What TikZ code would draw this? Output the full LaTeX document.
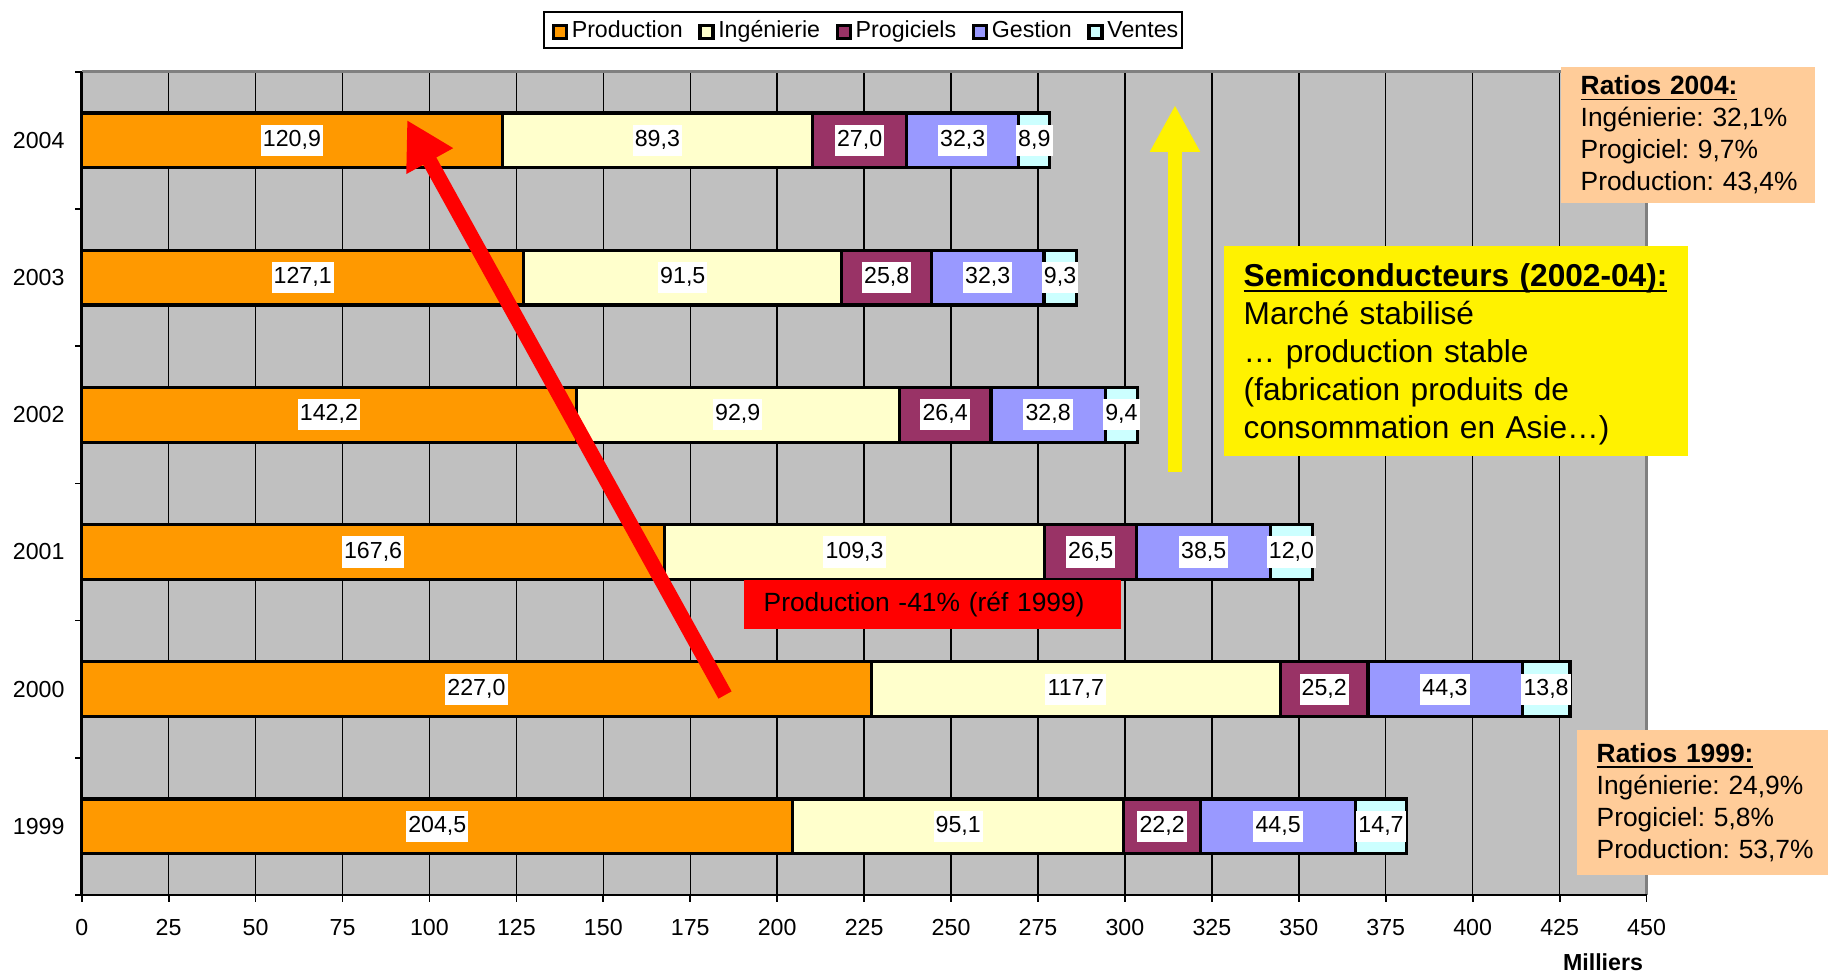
\documentclass[tikz,border=0pt]{standalone}
\usepackage{fontspec}
\setmainfont{Liberation Sans}
\usepackage{tikz}
\usetikzlibrary{positioning,arrows.meta}

\definecolor{prodcol}{HTML}{FF9900}
\definecolor{ingcol}{HTML}{FFFFCC}
\definecolor{progcol}{HTML}{993366}
\definecolor{gestcol}{HTML}{9999FF}
\definecolor{ventcol}{HTML}{CCFFFF}
\definecolor{plotgray}{HTML}{C0C0C0}
\definecolor{ratiocol}{HTML}{FFCC99}
\pgfkeys{/pgf/number format/.cd,fixed,fixed zerofill,precision=1,use comma,assume math mode=true}
\newcommand{\boxtitle}[1]{\underline{\raisebox{0pt}[\height][0pt]{\textbf{#1}}}}

\begin{document}
\begin{tikzpicture}[
  every node/.style={font=\fontsize{6.6}{8}\selectfont},
  seg/.style={draw=black, line width=0.9pt},
  val/.style={fill=white, inner xsep=0.6pt, inner ysep=1.4pt, text height=4.8pt, text depth=1.3pt},
  legsq/.style={draw=black, line width=0.9pt, minimum size=0.13cm, inner sep=0pt},
  legtxt/.style={inner sep=0pt, text height=4.8pt, text depth=1.4pt},
  ratiobox/.style={fill=ratiocol, anchor=north west, align=left, inner xsep=0.2cm, inner ysep=0.06cm, font=\fontsize{7.5}{9.1}\selectfont\frenchspacing}
]
  \useasboundingbox (0,0) rectangle (18.28,9.72);

  % Plot area: x in thousands, one unit in y per year
  \begin{scope}[shift={(0.817,0.77)}, x=0.03478cm, y=1.372cm]
    \fill[plotgray] (0,0) rectangle (450,6);
    \foreach \v in {25,50,...,425}
      \draw[black, line width=0.4pt] (\v,0) -- (\v,6);
    \draw[gray, line width=0.8pt] (0,6) -- (450,6) -- (450,0);
    \draw[black, line width=0.7pt] (0,6) -- (0,0) -- (450,0);
    \foreach \v in {0,25,...,450} {
      \draw[black, line width=0.5pt] (\v,0) -- ++(0,-0.07cm);
      \node (tick\v) at ([yshift=-0.33cm]\v,0) {\v};
    }
    \foreach \k in {0,...,6}
      \draw[black, line width=0.5pt] (0,\k) -- ++(-0.07cm,0);

    % Stacked bars, one row per year
    \foreach \yr/\row/\a/\b/\c/\d/\e in {1999/0/204.5/95.1/22.2/44.5/14.7,
        2000/1/227.0/117.7/25.2/44.3/13.8, 2001/2/167.6/109.3/26.5/38.5/12.0,
        2002/3/142.2/92.9/26.4/32.8/9.4, 2003/4/127.1/91.5/25.8/32.3/9.3,
        2004/5/120.9/89.3/27.0/32.3/8.9} {
      \pgfmathsetmacro\sa{\a}
      \pgfmathsetmacro\sb{\sa+\b}
      \pgfmathsetmacro\sc{\sb+\c}
      \pgfmathsetmacro\sd{\sc+\d}
      \pgfmathsetmacro\se{\sd+\e}
      \node (yr\yr) at ([xshift=-0.43cm]0,\row+0.5) {\yr};
      \draw[seg, fill=prodcol] (0,\row+0.3) rectangle (\sa,\row+0.7);
      \draw[seg, fill=ingcol]  (\sa,\row+0.3) rectangle (\sb,\row+0.7);
      \draw[seg, fill=progcol] (\sb,\row+0.3) rectangle (\sc,\row+0.7);
      \draw[seg, fill=gestcol] (\sc,\row+0.3) rectangle (\sd,\row+0.7);
      \draw[seg, fill=ventcol] (\sd,\row+0.3) rectangle (\se,\row+0.7);
      \node[val] (prod\yr) at ({\sa/2},\row+0.5) {\pgfmathprintnumber{\a}};
      \node[val] (ing\yr)  at ({(\sa+\sb)/2},\row+0.5) {\pgfmathprintnumber{\b}};
      \node[val] (prog\yr) at ({(\sb+\sc)/2},\row+0.5) {\pgfmathprintnumber{\c}};
      \node[val] (gest\yr) at ({(\sc+\sd)/2},\row+0.5) {\pgfmathprintnumber{\d}};
      \node[val] (vent\yr) at ({(\sd+\se)/2},\row+0.5) {\pgfmathprintnumber{\e}};
    }
  \end{scope}
  \node[font=\bfseries\fontsize{6.6}{8}\selectfont] (milliers) at (16.03,0.10) {Milliers};

  % Legend
  \draw[black, line width=0.6pt] (5.44,9.24) rectangle (11.82,9.60);
  \node[legsq, fill=prodcol] (lsqprod) at (5.60,9.40) {};
  \node[legtxt, right=0.03cm of lsqprod] (lprod) {Production};
  \node[legsq, fill=ingcol, right=0.15cm of lprod] (lsqing) {};
  \node[legtxt, right=0.03cm of lsqing] (ling) {Ingénierie};
  \node[legsq, fill=progcol, right=0.15cm of ling] (lsqprog) {};
  \node[legtxt, right=0.03cm of lsqprog] (lprog) {Progiciels};
  \node[legsq, fill=gestcol, right=0.15cm of lprog] (lsqgest) {};
  \node[legtxt, right=0.03cm of lsqgest] (lgest) {Gestion};
  \node[legsq, fill=ventcol, right=0.15cm of lgest] (lsqvent) {};
  \node[legtxt, right=0.03cm of lsqvent] (lvent) {Ventes};

  % Annotations
  \coordinate (redtail) at (7.25,2.77);
  \coordinate (redtip) at (4.07,8.52);
  \draw[red, line width=0.15cm, -{Triangle[width=0.5cm,length=0.47cm]}] (redtail) -- (redtip);
  \coordinate (yeltail) at (11.75,5.00);
  \coordinate (yeltip) at (11.75,8.67);
  \draw[yellow, line width=0.14cm, -{Triangle[width=0.47cm,length=0.47cm]}] (yeltail) -- (yeltip);

  \node[fill=red, anchor=north west, align=left, text width=3.37cm, inner xsep=0.2cm,
    minimum height=0.49cm, font=\fontsize{7.5}{9}\selectfont] (baisse) at (7.43,3.93)
    {Production -41\% (réf 1999)};
  \node[fill=yellow, anchor=north west, align=left, text width=4.24cm, inner xsep=0.2cm,
    minimum height=2.10cm, font=\fontsize{9}{10.8}\selectfont\frenchspacing] (semi) at (12.23,7.27)
    {\rule{0pt}{8.2pt}\boxtitle{Semiconducteurs (2002-04):}\\Marché stabilisé\\… production stable\\(fabrication produits de\\consommation en Asie…)};
  \node[ratiobox, text width=2.14cm, minimum height=1.36cm] (r2004) at (15.60,9.06)
    {\boxtitle{Ratios 2004:}\\Ingénierie: 32,1\%\\Progiciel: 9,7\%\\\mbox{Production: 43,4\%}};
  \node[ratiobox, text width=2.12cm, minimum height=1.45cm] (r1999) at (15.76,2.43)
    {\boxtitle{Ratios 1999:}\\Ingénierie: 24,9\%\\Progiciel: 5,8\%\\\mbox{Production: 53,7\%}};
\end{tikzpicture}
\end{document}
